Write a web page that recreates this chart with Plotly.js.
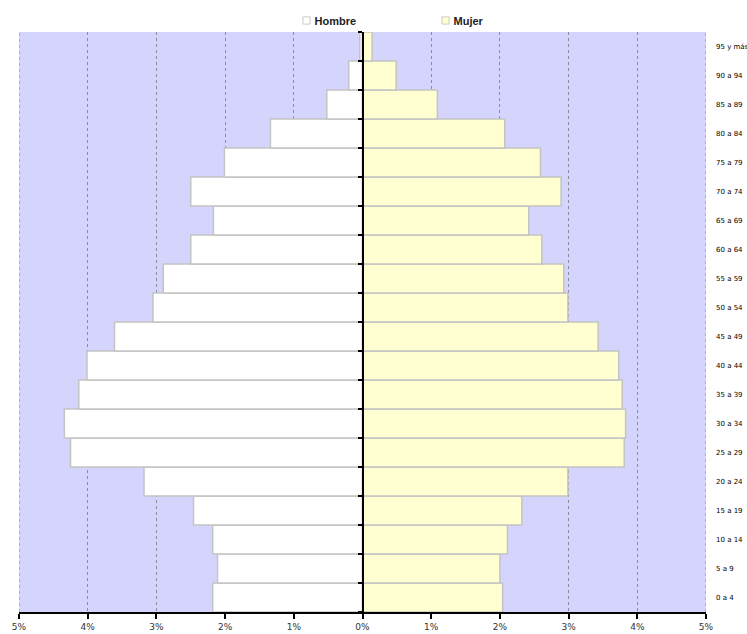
<!DOCTYPE html>
<html>
<head>
<meta charset="utf-8">
<script src="https://cdn.plot.ly/plotly-3.0.1.min.js"></script>
<style>html,body{margin:0;padding:0;background:#fff;}#chart{width:747px;height:634px;}</style>
</head>
<body>
<div id="chart"></div>
<script>
// Age groups, youngest (bottom) to oldest (top)
var ageGroups = ["0 a 4","5 a 9","10 a 14","15 a 19","20 a 24","25 a 29","30 a 34","35 a 39","40 a 44","45 a 49","50 a 54","55 a 59","60 a 64","65 a 69","70 a 74","75 a 79","80 a 84","85 a 89","90 a 94","95 y más"];
// Percent of population (men shown to the left)
var hombre = [2.18, 2.11, 2.18, 2.46, 3.18, 4.25, 4.34, 4.13, 4.01, 3.61, 3.05, 2.90, 2.50, 2.17, 2.50, 2.01, 1.34, 0.52, 0.20, 0.04];
var mujer  = [2.04, 2.00, 2.11, 2.32, 2.99, 3.81, 3.83, 3.78, 3.73, 3.43, 2.99, 2.93, 2.61, 2.42, 2.89, 2.59, 2.07, 1.09, 0.49, 0.14];
var xTickVals = [-5,-4,-3,-2,-1,0,1,2,3,4,5];
var xTickText = ["5%","4%","3%","2%","1%","0%","1%","2%","3%","4%","5%"];

var hombreNeg = hombre.map(function(v){ return -v; });

var traces = [
  {
    type: "bar", orientation: "h", name: "Hombre",
    y: ageGroups, x: hombreNeg, yaxis: "y",
    marker: {color: "#ffffff", line: {color: "#c4c4c4", width: 1.5}},
    hoverinfo: "skip"
  },
  {
    type: "bar", orientation: "h", name: "Mujer",
    y: ageGroups, x: mujer, yaxis: "y2",
    marker: {color: "#ffffd2", line: {color: "#c4c4c4", width: 1.5}},
    hoverinfo: "skip"
  }
];

var gridStyle = {color: "#8c8c98", width: 1, dash: "3px,3px"};
var edgeShapes = [xTickVals[0], xTickVals[xTickVals.length - 1]].map(function(v){
  return {type: "line", xref: "x", yref: "paper", x0: v, x1: v, y0: 0, y1: 1, line: gridStyle, layer: "below"};
});

var layout = {
  width: 747, height: 634,
  margin: {l: 19, r: 41, t: 32, b: 22, pad: 0},
  paper_bgcolor: "#ffffff",
  plot_bgcolor: "#d4d4fc",
  barmode: "overlay",
  bargap: 0,
  showlegend: true,
  legend: {
    orientation: "h",
    xref: "container", yref: "container",
    x: 0.3675, xanchor: "left",
    y: 1.0, yanchor: "top",
    entrywidth: 94, entrywidthmode: "pixels",
    font: {family: "Liberation Sans, Arial, sans-serif", size: 11, color: "#222", weight: "bold"},
    bgcolor: "rgba(0,0,0,0)",
    traceorder: "normal"
  },
  font: {family: "Liberation Sans, Arial, sans-serif", color: "#222"},
  shapes: edgeShapes,
  xaxis: {
    range: [xTickVals[0], xTickVals[xTickVals.length - 1]],
    tickvals: xTickVals, ticktext: xTickText,
    showgrid: true, gridcolor: gridStyle.color, griddash: gridStyle.dash, gridwidth: 1,
    zeroline: false,
    showline: true, linecolor: "#000", linewidth: 2,
    ticks: "outside", ticklen: 5, tickcolor: "#000", tickwidth: 2,
    tickfont: {size: 9, color: "#333", family: "DejaVu Sans, sans-serif"},
    fixedrange: true
  },
  yaxis: {
    type: "category", categoryorder: "array", categoryarray: ageGroups,
    side: "right", showgrid: false, zeroline: false, showline: false,
    ticks: "", ticklabelstandoff: 9,
    tickfont: {size: 7, color: "#000", family: "DejaVu Sans, sans-serif"},
    fixedrange: true
  },
  yaxis2: {
    type: "category", categoryorder: "array", categoryarray: ageGroups,
    overlaying: "y", anchor: "free", position: 0.5, side: "left",
    showgrid: false, zeroline: false,
    showline: true, linecolor: "#000", linewidth: 2,
    ticks: "outside", tickson: "boundaries", ticklen: 4, tickcolor: "#000", tickwidth: 2,
    showticklabels: false,
    fixedrange: true
  }
};

Plotly.newPlot("chart", traces, layout, {displayModeBar: false, staticPlot: true}).then(function(gd){
  // make the legend swatches small and close to their labels
  var groups = gd.querySelectorAll(".legend .legendpoints");
  groups.forEach(function(g){
    var bb = g.getBBox();
    var cx = bb.x + bb.width / 2, cy = bb.y + bb.height / 2;
    var existing = g.getAttribute("transform") || "";
    g.setAttribute("transform", existing + " translate(" + (cx + 12) + "," + cy + ") scale(0.6) translate(" + (-cx) + "," + (-cy) + ")");
  });
  // nudge the legend down slightly without affecting the margins
  var leg = gd.querySelector("g.legend");
  if (leg) {
    var t = leg.getAttribute("transform") || "";
    leg.setAttribute("transform", t + " translate(0,6)");
  }
});
</script>
</body>
</html>
